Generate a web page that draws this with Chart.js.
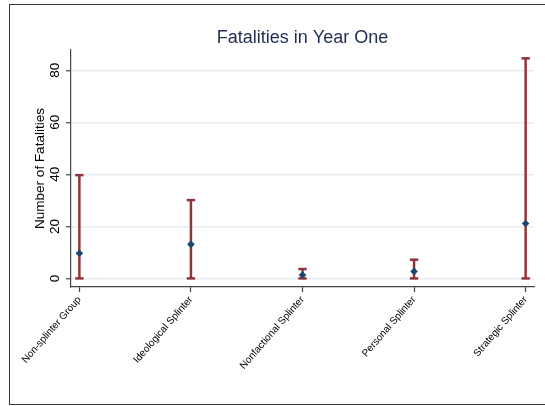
<!DOCTYPE html>
<html>
<head>
<meta charset="utf-8">
<title>Fatalities in Year One</title>
<script src="https://cdn.jsdelivr.net/npm/chart.js@4/dist/chart.umd.min.js"></script>
<style>
  html, body { margin: 0; padding: 0; background: #fff; overflow: hidden; }
  #wrap { position: relative; width: 545px; height: 406px; }
  #chart { position: absolute; left: 0; top: 0; }
  /* frame round the whole graph */
  #frame {
    position: absolute; left: 9px; top: 4px; width: 600px; height: 399px;
    border: 1px solid #3a3a3a; pointer-events: none;
  }
</style>
</head>
<body>
<div id="wrap">
  <canvas id="chart" width="545" height="406"></canvas>
  <div id="frame"></div>
</div>
<script>
  // group types on the x axis
  const groupTypes = [
    "Non-splinter Group",
    "Ideological Splinter",
    "Nonfactional Splinter",
    "Personal Splinter",
    "Strategic Splinter"
  ];

  // mean fatalities and the range shown by each bar
  const meanFatalities = [9.7, 13.1, 1.3, 2.7, 21.1];
  const lowerFatalities = [0, 0, 0, 0, 0];
  const upperFatalities = [39.7, 30.1, 3.6, 7.2, 84.6];

  const yTickValues = [0, 20, 40, 60, 80];

  const NAVY = "#1a476f";
  const MAROON = "#90353b";
  const FONT = "'Liberation Sans', Arial, Helvetica, sans-serif";

  // one small line dataset per group: vertical bar with flat caps
  const rangeSets = groupTypes.map((g, i) => ({
    type: "line",
    label: g + " range",
    data: [
      { x: i, y: lowerFatalities[i] },
      { x: i, y: upperFatalities[i] }
    ],
    borderColor: MAROON,
    borderWidth: 2.5,
    pointStyle: "line",
    pointRadius: 4.2,
    pointBorderWidth: 2.5,
    pointBorderColor: MAROON,
    order: 1
  }));

  const meanSet = {
    type: "scatter",
    label: "Mean",
    data: meanFatalities.map((v, i) => ({ x: i, y: v })),
    pointStyle: "rectRot",
    pointRadius: 3.8,
    pointBackgroundColor: NAVY,
    pointBorderColor: NAVY,
    pointBorderWidth: 0,
    order: 0
  };

  new Chart(document.getElementById("chart"), {
    type: "scatter",
    data: { datasets: [meanSet, ...rangeSets] },
    options: {
      responsive: false,
      animation: false,
      events: [],
      clip: false,
      layout: { padding: { left: 0, right: 11, top: 0, bottom: 0 } },
      plugins: {
        legend: { display: false },
        tooltip: { enabled: false },
        title: {
          display: true,
          fullSize: false,
          text: "Fatalities in Year One",
          color: "#1f2d52",
          font: { family: FONT, size: 18, weight: "normal" },
          padding: { top: 27, bottom: 1.4 }
        }
      },
      scales: {
        x: {
          type: "linear",
          min: -0.075,
          max: 4.075,
          afterBuildTicks: (s) => { s.ticks = groupTypes.map((g, i) => ({ value: i })); },
          afterFit: (s) => { s.height = 119; },
          border: { color: "#444", width: 1.2 },
          grid: { drawOnChartArea: false, tickLength: 5, tickColor: "#444", tickWidth: 1.2 },
          ticks: {
            minRotation: 49,
            maxRotation: 49,
            autoSkip: false,
            padding: 2,
            color: "#000",
            font: { family: FONT, size: 10 },
            callback: (v) => groupTypes[v]
          }
        },
        y: {
          min: -3.3,
          max: 87.8,
          afterBuildTicks: (s) => { s.ticks = yTickValues.map(v => ({ value: v })); },
          afterFit: (s) => { s.width = 71; },
          border: { color: "#444", width: 1.2 },
          grid: { color: "#e5edf0", lineWidth: 1.5, tickLength: 5, tickColor: "#444", tickWidth: 1.2 },
          ticks: {
            minRotation: 90,
            maxRotation: 90,
            crossAlign: "center",
            padding: 3,
            color: "#000",
            font: { family: FONT, size: 13.5 }
          },
          title: {
            display: true,
            text: "Number of Fatalities",
            color: "#000",
            font: { family: FONT, size: 13.5 },
            padding: { top: 32, bottom: 0 }
          }
        }
      }
    }
  });
</script>
</body>
</html>
